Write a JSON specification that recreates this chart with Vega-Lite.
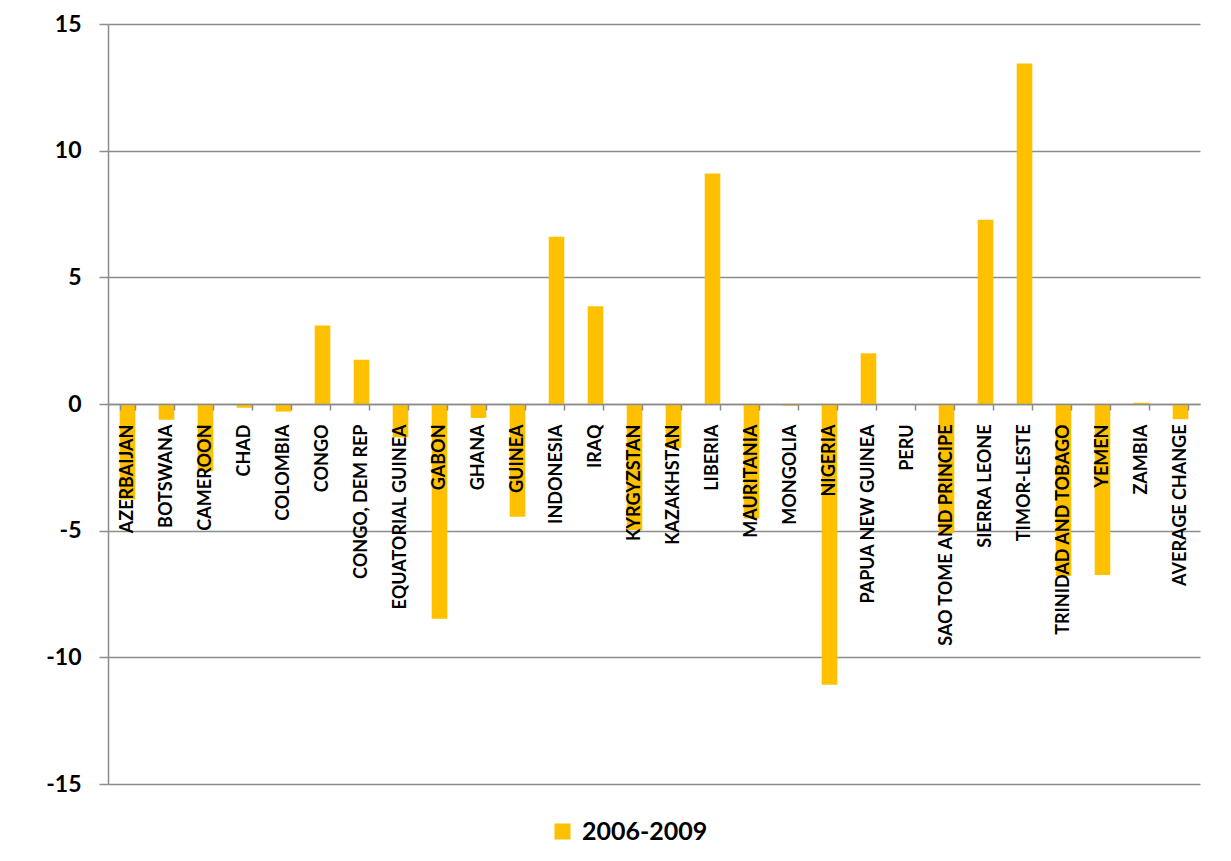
{
  "$schema": "https://vega.github.io/schema/vega-lite/v6.json",
  "width": 1092,
  "height": 760,
  "autosize": "none",
  "padding": {"left": 108, "top": 24, "right": 31, "bottom": 77},
  "background": "white",
  "config": {"view": {"stroke": null}, "font": "Lato"},
  "data": {"values": [
    {"country": "AZERBAIJAN", "value": -3.77, "series": "2006-2009"},
    {"country": "BOTSWANA", "value": -0.62, "series": "2006-2009"},
    {"country": "CAMEROON", "value": -2.65, "series": "2006-2009"},
    {"country": "CHAD", "value": -0.15, "series": "2006-2009"},
    {"country": "COLOMBIA", "value": -0.3, "series": "2006-2009"},
    {"country": "CONGO", "value": 3.1, "series": "2006-2009"},
    {"country": "CONGO, DEM REP", "value": 1.75, "series": "2006-2009"},
    {"country": "EQUATORIAL GUINEA", "value": -1.32, "series": "2006-2009"},
    {"country": "GABON", "value": -8.48, "series": "2006-2009"},
    {"country": "GHANA", "value": -0.55, "series": "2006-2009"},
    {"country": "GUINEA", "value": -4.45, "series": "2006-2009"},
    {"country": "INDONESIA", "value": 6.6, "series": "2006-2009"},
    {"country": "IRAQ", "value": 3.86, "series": "2006-2009"},
    {"country": "KYRGYZSTAN", "value": -4.97, "series": "2006-2009"},
    {"country": "KAZAKHSTAN", "value": -1.73, "series": "2006-2009"},
    {"country": "LIBERIA", "value": 9.1, "series": "2006-2009"},
    {"country": "MAURITANIA", "value": -4.52, "series": "2006-2009"},
    {"country": "MONGOLIA", "value": -0.07, "series": "2006-2009"},
    {"country": "NIGERIA", "value": -11.08, "series": "2006-2009"},
    {"country": "PAPUA NEW GUINEA", "value": 2.0, "series": "2006-2009"},
    {"country": "PERU", "value": 0, "series": "2006-2009"},
    {"country": "SAO TOME AND PRINCIPE", "value": -5.1, "series": "2006-2009"},
    {"country": "SIERRA LEONE", "value": 7.27, "series": "2006-2009"},
    {"country": "TIMOR-LESTE", "value": 13.44, "series": "2006-2009"},
    {"country": "TRINIDAD AND TOBAGO", "value": -6.79, "series": "2006-2009"},
    {"country": "YEMEN", "value": -6.75, "series": "2006-2009"},
    {"country": "ZAMBIA", "value": 0.05, "series": "2006-2009"},
    {"country": "AVERAGE CHANGE", "value": -0.6, "series": "2006-2009"}
  ]},
  "mark": {"type": "bar"},
  "encoding": {
    "x": {
      "field": "country", "type": "nominal", "sort": null,
      "scale": {"paddingInner": 0.6, "paddingOuter": 0.3},
      "axis": {
        "title": null, "orient": "bottom", "offset": -380, "zindex": 1,
        "labelAngle": -90, "labelFont": "Lato", "labelFontWeight": "bold",
        "labelFontSize": 18, "labelColor": "black", "labelPadding": 14,
        "labelLimit": 400, "labelOverlap": false,
        "tickBand": "extent", "tickSize": 6, "tickColor": "#8c8c8c", "tickWidth": 1.5,
        "domainColor": "#8c8c8c", "domainWidth": 1.5, "grid": false
      }
    },
    "y": {
      "field": "value", "type": "quantitative",
      "scale": {"domain": [-15, 15], "nice": false},
      "axis": {
        "title": null, "values": [-15, -10, -5, 0, 5, 10, 15],
        "labelExpr": "toString(datum.value)",
        "labelFont": "Lato", "labelFontWeight": "bold", "labelFontSize": 23,
        "labelColor": "black", "labelPadding": 18,
        "tickSize": 9, "tickColor": "#8c8c8c", "tickWidth": 1.5,
        "domainColor": "#8c8c8c", "domainWidth": 1.5,
        "grid": true, "gridColor": "#8c8c8c", "gridWidth": 1.5
      }
    },
    "color": {
      "field": "series", "type": "nominal",
      "scale": {"range": ["#FFC000"]},
      "legend": {
        "title": null, "orient": "none", "legendX": 442, "legendY": 795,
        "symbolType": "square", "symbolSize": 256, "symbolStrokeWidth": 0,
        "labelFont": "Lato", "labelFontWeight": "bold", "labelFontSize": 25,
        "labelColor": "black", "labelOffset": 7
      }
    }
  }
}
